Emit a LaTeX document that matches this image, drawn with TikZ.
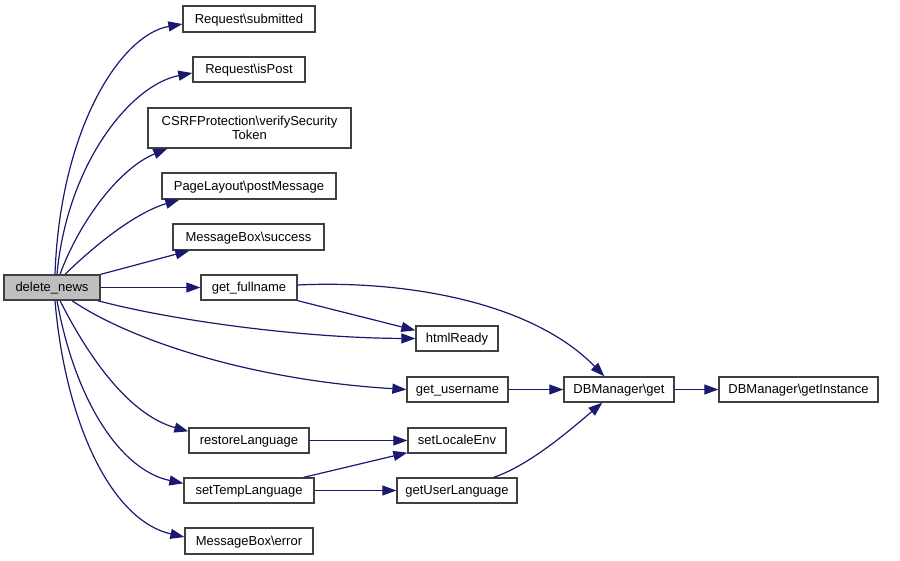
\documentclass[tikz,border=0pt]{standalone}
\usepackage{fontspec}
\setmainfont{Liberation Sans}
\usetikzlibrary{arrows.meta,calc}
\definecolor{edgecol}{HTML}{191970}
\definecolor{boxcol}{HTML}{404040}
\definecolor{rootfill}{HTML}{BFBFBF}
\tikzset{
  fnbase/.style={draw=boxcol, line width=1.3pt, fill=white, inner sep=0pt, align=center,
    font=\fontsize{13}{14.5}\selectfont},
  fn/.style={fnbase, text height=10.5pt, text depth=2.5pt},
  rootfn/.style={fn, fill=rootfill},
  call/.style={draw=edgecol, line width=1.2pt, -{Triangle[length=14pt,width=10pt]}},
}
\begin{document}
\begin{tikzpicture}[x=1pt,y=-1pt]
\useasboundingbox (0,0) rectangle (900,560);
% nodes
\node[rootfn, minimum width=96pt, minimum height=25pt] (dn) at (52,287.5) {delete\_news};
\node[fn, minimum width=132pt, minimum height=26pt] (sub) at (249,19) {Request\textbackslash submitted};
\node[fn, minimum width=112pt, minimum height=25pt] (isp) at (249,69.5) {Request\textbackslash isPost};
\node[fnbase, minimum width=203pt, minimum height=40pt] (csrf) at (249.5,128) {CSRFProtection\textbackslash verifySecurity\\Token};
\node[fn, minimum width=174pt, minimum height=26pt] (pm) at (249,186) {PageLayout\textbackslash postMessage};
\node[fn, minimum width=151pt, minimum height=26pt] (succ) at (248.5,237) {MessageBox\textbackslash success};
\node[fn, minimum width=96pt, minimum height=25pt] (gf) at (249,287.5) {get\_fullname};
\node[fn, minimum width=82pt, minimum height=25pt] (html) at (457,338.5) {htmlReady};
\node[fn, minimum width=101pt, minimum height=25pt] (gu) at (457.5,389.5) {get\_username};
\node[fn, minimum width=110pt, minimum height=25pt] (dbget) at (619,389.5) {DBManager\textbackslash get};
\node[fn, minimum width=159pt, minimum height=25pt] (dbinst) at (798.5,389.5) {DBManager\textbackslash getInstance};
\node[fn, minimum width=120pt, minimum height=25pt] (rl) at (249,440.5) {restoreLanguage};
\node[fn, minimum width=98pt, minimum height=25pt] (sle) at (457,440.5) {setLocaleEnv};
\node[fn, minimum width=130pt, minimum height=25pt] (stl) at (249,490.5) {setTempLanguage};
\node[fn, minimum width=120pt, minimum height=25pt] (gul) at (457,490.5) {getUserLanguage};
\node[fn, minimum width=128pt, minimum height=26pt] (err) at (249,541) {MessageBox\textbackslash error};
% edges
\draw[call] ($(dn.north)+(3,0)$) .. controls (60,130) and (120,35) .. ($(sub.west)+(0,5)$);
\draw[call] ($(dn.north)+(5,0)$) .. controls (67,165) and (130,85) .. ($(isp.west)+(0,3.5)$);
\draw[call] ($(dn.north)+(8,0)$) .. controls (80,220) and (120,168) .. ($(csrf.south west)+(20,0)$);
\draw[call] ($(dn.north)+(13,0)$) .. controls (95,245) and (135,213) .. ($(pm.south west)+(18,0)$);
\draw[call] (dn.north east) -- ($(succ.south west)+(17,0)$);
\draw[call] (dn.east) -- (gf.west);
\draw[call] ($(dn.south east)+(-3,0)$) .. controls (170,320) and (300,338) .. (html.west);
\draw[call] ($(dn.south)+(20,0)$) .. controls (130,340) and (250,380) .. (gu.west);
\draw[call] ($(dn.south)+(8,0)$) .. controls (90,360) and (130,415) .. ($(rl.north west)+(0,4)$);
\draw[call] ($(dn.south)+(5,0)$) .. controls (75,400) and (120,470) .. ($(stl.north west)+(0,6)$);
\draw[call] ($(dn.south)+(3,0)$) .. controls (65,420) and (110,520) .. ($(err.west)+(0,-4)$);
\draw[call] (gf.south east) -- ($(html.north west)+(0,5)$);
\draw[call] ($(gf.east)+(0,-2.5)$) .. controls (400,280) and (530,300) .. ($(dbget.north west)+(41,0)$);
\draw[call] (gu.east) -- (dbget.west);
\draw[call] (dbget.east) -- (dbinst.west);
\draw[call] (rl.east) -- (sle.west);
\draw[call] ($(stl.north east)+(-11,0)$) -- ($(sle.south west)+(0,-1)$);
\draw[call] (stl.east) -- (gul.west);
\draw[call] ($(gul.north east)+(-24,0)$) .. controls (530,465) and (570,430) .. ($(dbget.south west)+(39,0)$);
\end{tikzpicture}
\end{document}
